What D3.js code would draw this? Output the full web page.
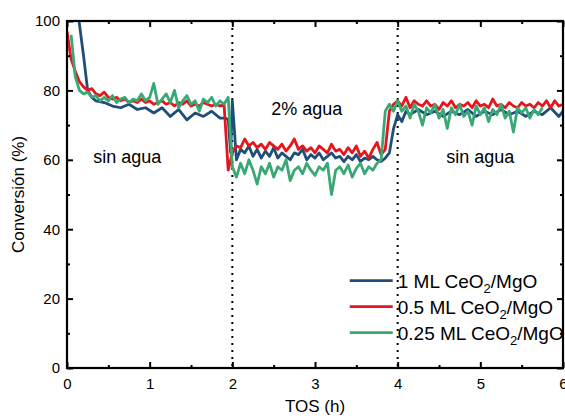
<!DOCTYPE html>
<html>
<head>
<meta charset="utf-8">
<script src="https://cdn.jsdelivr.net/npm/d3@7"></script>
<style>
  body { margin: 0; background: #fff; }
  text { font-family: "Liberation Sans", Arial, sans-serif; fill: #000; }
</style>
</head>
<body>
<div id="chart"></div>
<script>
// series values (TOS in h, conversion in %)
const blueTimes = [0.14, 0.20, 0.25, 0.30, 0.35, 0.45, 0.55, 0.65, 0.75, 0.85, 0.95, 1.05, 1.15, 1.25, 1.35, 1.45, 1.55, 1.65, 1.75, 1.85, 1.92, 1.95, 1.98, 2.00,
  2.05, 2.10, 2.15, 2.20, 2.25, 2.30, 2.35, 2.40, 2.45, 2.50, 2.55, 2.60, 2.65, 2.70, 2.75, 2.80, 2.85, 2.90, 2.95, 3.00, 3.05, 3.10, 3.15, 3.20, 3.25, 3.30,
  3.35, 3.40, 3.45, 3.50, 3.55, 3.60, 3.65, 3.70, 3.75, 3.80, 3.85, 3.90, 3.95, 4.00, 4.05, 4.10, 4.15, 4.25, 4.35, 4.45, 4.55, 4.65, 4.75, 4.85, 4.95, 5.05,
  5.15, 5.25, 5.35, 5.45, 5.55, 5.65, 5.75, 5.85, 5.95, 6.00];
const blueValues = [101, 90, 80, 78, 77, 76.5, 75.5, 75, 76, 74.5, 75, 73.5, 75, 72.5, 74.5, 71.5, 73.5, 72.5, 74, 72, 72, 71.5, 62, 77,
  60, 63, 62, 64, 61, 63, 60.5, 62.5, 61, 63.5, 60.5, 62, 61, 60, 62, 61.5, 63, 60, 61.5, 60.5, 62, 60, 61, 62, 60.5, 61,
  59.5, 61, 60, 61.5, 59.5, 60.5, 60, 61, 60, 59.5, 60.5, 62, 69, 73, 71, 74, 73, 74.5, 73, 74, 72.5, 74, 73, 74.5, 72.5, 74,
  73, 74.5, 73, 74, 72.5, 74, 73, 75, 72.5, 74];

const redTimes = d3.range(0, 121).map(i => i / 20);
const redValues = [97, 89, 85.5, 82.5, 81, 80, 80.5, 79, 78.5, 79.5, 78, 77.5, 78, 77, 77.5, 76.5, 77, 76.5, 77.5, 76.5,
  77, 76, 76.5, 77, 76, 76.5, 75.5, 76.5, 76, 77, 75.5, 76, 75.5, 76.5, 76, 75.5, 76, 75.5, 76, 57,
  62, 64, 63.5, 66, 64, 65, 63.5, 64.5, 63, 65, 64, 63, 64.5, 62.5, 64, 66, 63, 64, 62.5, 63.5,
  62, 64, 63, 62, 64.5, 62.5, 63, 61.5, 63.5, 62, 64, 61, 62.5, 60.5, 63, 65, 61.5, 63, 74, 76,
  77, 75.5, 78, 75, 77, 76, 75.5, 77, 75.5, 76, 74.5, 76.5, 75.5, 77, 75, 76, 75.5, 76.5, 75, 77,
  75.5, 76, 75, 77.5, 75.5, 76, 75, 76.5, 75.5, 75, 76.5, 75.5, 76, 75, 76.5, 75.5, 77, 75, 77, 75.5, 76];

const greenTimes = d3.range(1, 116).map(i => i / 20);
const greenValues = [96, 84, 80, 79, 79.5, 78, 78.5, 77, 78, 77, 78.5, 76.5, 77.5, 78, 76.5, 77.5, 77, 79, 77,
  78, 82, 76, 77.5, 79, 76.5, 80, 75, 77, 78.5, 76, 77, 74, 77.5, 76.5, 78, 75.5, 77, 76, 78,
  58, 55, 59, 56, 60, 57, 53, 58, 56, 59, 55, 58, 57, 60, 54, 57, 58, 56, 59, 57,
  55.5, 58, 57, 59, 50, 57, 58, 56, 58.5, 55, 57.5, 59, 56, 58, 57, 59, 60, 74, 76, 74,
  77, 74, 75.5, 72, 76, 74, 70, 75, 73.5, 76, 72, 74.5, 69, 75, 73, 76, 72.5, 74, 70, 75.5,
  73, 75, 71, 74.5, 73, 76, 72, 74, 68, 75, 73.5, 75, 72, 74.5, 73, 75];

const seriesNames = ["1 ML CeO", "0.5 ML CeO", "0.25 ML CeO"];
const seriesColors = ["#1f4e79", "#e8141b", "#3aa875"];
const xMajorTicks = [0, 1, 2, 3, 4, 5, 6];
const xMinorTicks = [0.5, 1.5, 2.5, 3.5, 4.5, 5.5];
const yMajorTicks = [0, 20, 40, 60, 80, 100];
const yMinorTicks = [10, 30, 50, 70, 90];
const switchTimes = [2, 4];
const regionLabels = [
  { t: 0.73, v: 59, text: "sin agua" },
  { t: 2.9, v: 73, text: "2% agua" },
  { t: 5.0, v: 59, text: "sin agua" }
];

const W = 565, H = 419;
const margin = { top: 21, right: 2, bottom: 51, left: 67 };
const width = W - margin.left - margin.right;
const height = H - margin.top - margin.bottom;

const svg = d3.select("#chart").append("svg")
  .attr("width", W)
  .attr("height", H);

const g = svg.append("g")
  .attr("transform", "translate(" + margin.left + "," + margin.top + ")");

const x = d3.scaleLinear().domain([0, 6]).range([0, width]);
const y = d3.scaleLinear().domain([0, 100]).range([height, 0]);

svg.append("clipPath").attr("id", "plot-clip")
  .append("rect").attr("width", width).attr("height", height);

// dotted lines where water is switched on/off
g.selectAll(".switch")
  .data(switchTimes)
  .enter().append("line")
  .attr("class", "switch")
  .attr("x1", d => x(d)).attr("x2", d => x(d))
  .attr("y1", 0).attr("y2", height)
  .attr("stroke", "#000")
  .attr("stroke-width", 2)
  .attr("stroke-dasharray", "2,5");

const line = d3.line()
  .x(d => x(d[0]))
  .y(d => y(d[1]));

const series = [
  d3.zip(blueTimes, blueValues),
  d3.zip(redTimes, redValues),
  d3.zip(greenTimes, greenValues)
];

g.append("g").attr("clip-path", "url(#plot-clip)")
  .selectAll("path")
  .data(series)
  .enter().append("path")
  .attr("d", line)
  .attr("fill", "none")
  .attr("stroke", (d, i) => seriesColors[i])
  .attr("stroke-width", 2.8)
  .attr("stroke-linejoin", "round");

// axes: ticks pointing inward on all four sides
function styleAxis(sel) {
  sel.select(".domain").remove();
  sel.selectAll(".tick line").attr("stroke", "#000").attr("stroke-width", 2);
  sel.selectAll(".tick text").attr("font-size", 15).attr("fill", "#000");
}

g.append("g").attr("transform", "translate(0," + height + ")")
  .call(d3.axisBottom(x).tickValues(xMajorTicks).tickSize(-6).tickPadding(10).tickFormat(d3.format("d")))
  .call(styleAxis);
g.append("g").attr("transform", "translate(0," + height + ")")
  .call(d3.axisBottom(x).tickValues(xMinorTicks).tickSize(-3).tickFormat(""))
  .call(styleAxis);
g.append("g")
  .call(d3.axisTop(x).tickValues(xMajorTicks).tickSize(-6).tickFormat(""))
  .call(styleAxis);
g.append("g")
  .call(d3.axisTop(x).tickValues(xMinorTicks).tickSize(-3).tickFormat(""))
  .call(styleAxis);

g.append("g")
  .call(d3.axisLeft(y).tickValues(yMajorTicks).tickSize(-6).tickPadding(7))
  .call(styleAxis);
g.append("g")
  .call(d3.axisLeft(y).tickValues(yMinorTicks).tickSize(-3).tickFormat(""))
  .call(styleAxis);
g.append("g").attr("transform", "translate(" + width + ",0)")
  .call(d3.axisRight(y).tickValues(yMajorTicks).tickSize(-6).tickFormat(""))
  .call(styleAxis);
g.append("g").attr("transform", "translate(" + width + ",0)")
  .call(d3.axisRight(y).tickValues(yMinorTicks).tickSize(-3).tickFormat(""))
  .call(styleAxis);

g.append("rect")
  .attr("width", width).attr("height", height)
  .attr("fill", "none")
  .attr("stroke", "#000")
  .attr("stroke-width", 2.2);

// region annotations
g.selectAll(".region")
  .data(regionLabels)
  .enter().append("text")
  .attr("class", "region")
  .attr("x", d => x(d.t))
  .attr("y", d => y(d.v))
  .attr("text-anchor", "middle")
  .attr("font-size", 18)
  .text(d => d.text);

// axis titles
svg.append("text")
  .attr("x", margin.left + width / 2)
  .attr("y", 412)
  .attr("text-anchor", "middle")
  .attr("font-size", 17)
  .text("TOS (h)");

svg.append("text")
  .attr("transform", "translate(24," + (margin.top + height / 2) + ") rotate(-90)")
  .attr("text-anchor", "middle")
  .attr("font-size", 17)
  .text("Conversión (%)");

// legend
const legend = g.append("g")
  .attr("transform", "translate(" + x(3.42) + "," + y(25.2) + ")");

const rows = legend.selectAll("g")
  .data(seriesNames)
  .enter().append("g")
  .attr("transform", (d, i) => "translate(0," + i * 26 + ")");

rows.append("line")
  .attr("x1", 0).attr("x2", 43)
  .attr("stroke", (d, i) => seriesColors[i])
  .attr("stroke-width", 2.8);

const labels = rows.append("text")
  .attr("x", 48)
  .attr("y", 7)
  .attr("font-size", 19);
labels.append("tspan").text(d => d);
labels.append("tspan").attr("font-size", 13).attr("dy", 5).text("2");
labels.append("tspan").attr("dy", -5).text("/MgO");
</script>
</body>
</html>
